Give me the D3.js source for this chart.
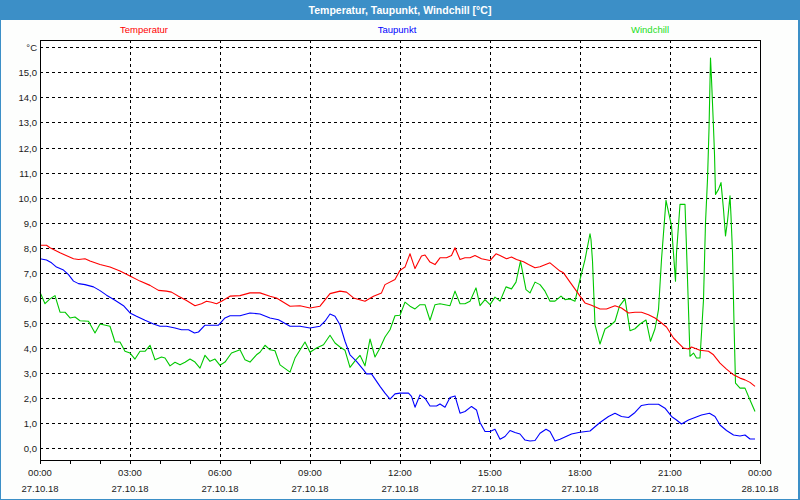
<!DOCTYPE html>
<html>
<head>
<meta charset="utf-8">
<script src="https://cdn.jsdelivr.net/npm/d3@7"></script>
<style>
  html, body { margin: 0; padding: 0; background: #fff; }
  svg { display: block; }
  text { font-family: "Liberation Sans", Arial, sans-serif; }
</style>
</head>
<body>
<svg id="chart" width="800" height="500"></svg>
<script>
// ---- data (time in minutes after 27.10.18 00:00, values in °C) ----
const tempTime = [0,13,20,40,67,77,90,100,120,140,160,180,200,220,237,253,263,277,293,310,323,333,343,353,363,380,400,420,440,460,473,500,520,540,560,580,600,613,627,650,667,683,690,710,720,730,740,750,763,770,780,790,800,813,823,830,840,850,860,870,883,900,912,920,933,943,953,967,977,990,1000,1020,1040,1047,1060,1073,1080,1090,1103,1120,1133,1150,1163,1177,1190,1203,1217,1230,1243,1253,1267,1277,1287,1297,1303,1320,1337,1347,1360,1373,1387,1400,1410,1420,1430];
const tempValue = [8.1,8.1,8.0,7.8,7.56,7.53,7.56,7.47,7.33,7.23,7.07,6.87,6.67,6.5,6.3,6.27,6.23,6.07,5.9,5.69,5.77,5.87,5.83,5.77,5.87,6.07,6.09,6.2,6.2,6.07,6.0,5.67,5.69,5.6,5.67,6.17,6.27,6.23,6.0,5.87,6.07,6.2,6.53,6.73,7.1,7.23,7.76,7.17,7.67,7.71,7.43,7.33,7.6,7.6,7.69,8.0,7.53,7.6,7.6,7.69,7.56,7.49,7.76,7.69,7.56,7.63,7.53,7.44,7.33,7.2,7.24,7.4,7.07,7.0,6.63,6.27,6.07,5.8,5.71,5.56,5.56,5.69,5.6,5.4,5.43,5.43,5.33,5.2,5.0,4.84,4.4,4.2,4.0,3.96,4.04,3.91,3.87,3.73,3.4,3.16,2.93,2.8,2.73,2.63,2.47];

const dewTime = [0,13,23,33,47,57,67,77,90,107,120,133,150,167,180,193,210,227,240,253,270,283,297,309,317,330,347,357,370,380,400,420,440,460,477,500,520,540,560,570,580,590,600,610,620,633,647,653,663,680,690,700,710,720,737,743,750,760,770,780,793,800,810,820,830,840,850,863,873,880,890,900,910,920,930,940,950,960,970,980,990,1000,1012,1020,1030,1040,1063,1080,1100,1120,1137,1150,1163,1177,1190,1203,1217,1237,1250,1263,1273,1283,1297,1310,1323,1339,1350,1360,1373,1387,1400,1410,1420,1430];
const dewValue = [7.56,7.51,7.4,7.23,7.11,6.93,6.67,6.57,6.53,6.44,6.29,6.11,5.91,5.69,5.4,5.27,5.11,4.96,4.87,4.87,4.8,4.73,4.73,4.6,4.64,4.91,4.91,4.91,5.2,5.29,5.29,5.4,5.36,5.2,5.13,4.87,4.87,4.8,4.87,5.07,5.36,5.27,4.93,4.27,3.73,3.47,3.13,2.97,2.97,2.47,2.2,1.96,2.17,2.2,2.2,2.07,1.64,2.13,2.0,1.69,1.69,1.77,1.64,2.03,2.09,1.4,1.47,1.67,1.53,1.03,0.67,0.67,0.76,0.36,0.47,0.71,0.63,0.57,0.33,0.29,0.31,0.6,0.76,0.67,0.29,0.36,0.57,0.64,0.69,1.03,1.27,1.4,1.27,1.23,1.43,1.71,1.76,1.76,1.6,1.27,1.13,0.97,1.13,1.23,1.33,1.4,1.27,0.93,0.71,0.53,0.49,0.53,0.37,0.37];

const chillTime = [0,10,20,30,40,50,60,70,80,97,110,120,140,150,160,170,180,190,200,210,220,230,243,250,260,270,280,290,300,310,320,330,340,350,360,370,383,400,410,420,433,440,450,460,470,480,500,510,530,540,553,567,580,590,600,610,620,630,640,650,660,670,680,690,700,710,720,730,740,750,760,770,780,790,800,820,830,840,850,860,872,880,890,900,910,920,932,943,952,961,972,980,990,1000,1010,1020,1030,1042,1050,1060,1070,1080,1090,1100,1102,1105,1110,1120,1130,1140,1150,1159,1170,1180,1190,1200,1212,1221,1230,1237,1243,1252,1263,1271,1273,1280,1290,1293,1300,1307,1313,1320,1327,1331,1335,1338,1341,1343,1347,1349,1351,1357,1362,1367,1371,1375,1380,1382,1385,1388,1391,1400,1410,1420,1430];
const chillValue = [6.23,5.77,5.96,6.09,5.43,5.43,5.2,5.24,5.09,5.07,4.6,4.96,4.87,4.24,4.24,3.87,3.8,3.56,3.87,3.87,4.11,3.53,3.64,3.6,3.29,3.43,3.33,3.43,3.56,3.44,3.2,3.71,3.47,3.56,3.31,3.44,3.8,3.93,3.53,3.44,3.73,3.83,4.11,3.93,3.89,3.33,3.04,3.6,4.24,3.83,4.0,4.13,4.51,4.2,4.04,3.91,3.23,3.49,3.71,3.29,4.36,3.64,4.0,4.44,4.73,5.29,5.31,5.83,5.67,5.56,5.73,5.73,5.11,5.73,5.77,5.69,6.27,5.77,5.77,5.87,6.4,5.69,5.93,5.73,6.03,5.87,6.44,6.36,6.63,7.47,6.33,6.2,6.63,6.53,6.27,5.87,5.87,6.07,5.93,5.96,5.87,6.73,7.53,8.56,8.33,7.47,4.93,4.16,4.76,4.89,5.07,5.67,5.96,4.69,4.77,4.96,5.12,4.27,4.77,5.53,7.53,9.89,8.87,6.67,7.8,9.73,9.73,8.0,3.67,3.8,3.6,3.6,5.93,9.0,10.73,12.73,15.57,14.73,12.8,11.73,10.13,10.33,10.6,9.53,8.47,9.07,10.07,9.27,7.8,5.0,2.6,2.4,2.4,1.93,1.47];

const seriesNames = ["Temperatur", "Taupunkt", "Windchill"];
const seriesColors = ["#ff0000", "#0000ff", "#00c800"];
const legendColors = ["#ff0000", "#0000ff", "#22dd22"];
const yTickValues = [0,1,2,3,4,5,6,7,8,9,10,11,12,13,14,15,16];
const yTickLabels = ["0,0","1,0","2,0","3,0","4,0","5,0","6,0","7,0","8,0","9,0","10,0","11,0","12,0","13,0","14,0","15,0","°C"];
const xTickTimes = [0,180,360,540,720,900,1080,1260,1440];
const xTimeLabels = ["00:00","03:00","06:00","09:00","12:00","15:00","18:00","21:00","00:00"];
const xDateLabels = ["27.10.18","27.10.18","27.10.18","27.10.18","27.10.18","27.10.18","27.10.18","27.10.18","28.10.18"];
const title = "Temperatur, Taupunkt, Windchill [°C]";

// ---- layout ----
const W = 800, H = 500;
const plot = { left: 40, right: 760, top: 40, bottom: 460 };
const frameColor = "#3c8fc7";

const svg = d3.select("#chart");
svg.append("rect").attr("x", 0).attr("y", 0).attr("width", W).attr("height", H).attr("fill", "#fdfefd");
// frame
svg.append("rect").attr("x", 0).attr("y", 0).attr("width", W).attr("height", 20).attr("fill", frameColor);
svg.append("rect").attr("x", 0).attr("y", 0).attr("width", 1).attr("height", H).attr("fill", frameColor);
svg.append("rect").attr("x", W - 2).attr("y", 0).attr("width", 2).attr("height", H).attr("fill", frameColor);
svg.append("rect").attr("x", 0).attr("y", H - 1).attr("width", W).attr("height", 1).attr("fill", frameColor);

svg.append("text").attr("x", W / 2).attr("y", 14).attr("text-anchor", "middle")
  .attr("fill", "#ffffff").attr("font-weight", "bold").attr("font-size", "10.5px")
  .attr("font-family", "'DejaVu Sans Condensed', 'Liberation Sans Narrow', 'Liberation Sans', sans-serif")
  .text(title);

// plot background
svg.append("rect").attr("x", plot.left).attr("y", plot.top)
  .attr("width", plot.right - plot.left).attr("height", plot.bottom - plot.top).attr("fill", "#ffffff");

const x = d3.scaleLinear().domain([0, 1440]).range([plot.left, plot.right]);
const y = d3.scaleLinear().domain([-0.467, 16.29]).range([plot.bottom, plot.top]);
const snap = v => Math.round(v) + 0.5;

// horizontal grid
svg.append("g").selectAll("line").data(yTickValues).join("line")
  .attr("x1", plot.left).attr("x2", plot.right)
  .attr("y1", d => snap(y(d))).attr("y2", d => snap(y(d)))
  .attr("stroke", "#000").attr("stroke-width", 1).attr("stroke-dasharray", "3,3")
  .attr("shape-rendering", "crispEdges");
// vertical grid
svg.append("g").selectAll("line").data(xTickTimes.slice(1, -1)).join("line")
  .attr("x1", d => snap(x(d))).attr("x2", d => snap(x(d)))
  .attr("y1", plot.top).attr("y2", plot.bottom)
  .attr("stroke", "#000").attr("stroke-width", 1).attr("stroke-dasharray", "3,3")
  .attr("shape-rendering", "crispEdges");

// y labels
svg.append("g").selectAll("text").data(yTickValues).join("text")
  .attr("x", 37).attr("y", d => snap(y(d)) + 3.5)
  .attr("text-anchor", "end").attr("font-size", "9.5px").attr("fill", "#1a1a1a")
  .text((d, i) => yTickLabels[i]);

// x axis ticks (hourly)
const xAxis = d3.axisBottom(x).tickValues(d3.range(0, 1441, 60)).tickSize(3).tickFormat("");
const gx = svg.append("g").attr("transform", `translate(0.5,${plot.bottom + 0.5})`).call(xAxis);
gx.select(".domain").remove();
gx.selectAll("line").attr("stroke", "#000").attr("shape-rendering", "crispEdges")
  .attr("transform", "translate(-0.5,0)");

svg.append("g").selectAll("text").data(xTickTimes).join("text")
  .attr("x", d => x(d)).attr("y", 476).attr("text-anchor", "middle")
  .attr("font-size", "9.5px").attr("fill", "#1a1a1a").text((d, i) => xTimeLabels[i]);
svg.append("g").selectAll("text").data(xTickTimes).join("text")
  .attr("x", d => x(d)).attr("y", 492).attr("text-anchor", "middle")
  .attr("font-size", "9.5px").attr("fill", "#1a1a1a").text((d, i) => xDateLabels[i]);

// series
const series = [
  { t: tempTime, v: tempValue },
  { t: dewTime, v: dewValue },
  { t: chillTime, v: chillValue }
];
const line = d3.line().x(d => x(d[0])).y(d => y(d[1]));
const drawOrder = [2, 1, 0];
drawOrder.forEach(i => {
  const s = series[i];
  const pts = s.t.map((t, k) => [t, s.v[k]]);
  svg.append("path").datum(pts).attr("d", line)
    .attr("fill", "none").attr("stroke", seriesColors[i]).attr("stroke-width", 1.1)
    .attr("stroke-linejoin", "round");
});

// plot frame
svg.append("rect").attr("x", plot.left + 0.5).attr("y", plot.top + 0.5)
  .attr("width", plot.right - plot.left).attr("height", plot.bottom - plot.top)
  .attr("fill", "none").attr("stroke", "#000").attr("stroke-width", 1).attr("shape-rendering", "crispEdges");

// legend
const legendX = [144, 397, 650];
svg.append("g").selectAll("text").data(seriesNames).join("text")
  .attr("x", (d, i) => legendX[i]).attr("y", 33).attr("text-anchor", "middle")
  .attr("font-size", "9.5px").attr("fill", (d, i) => legendColors[i]).text(d => d);
</script>
</body>
</html>
